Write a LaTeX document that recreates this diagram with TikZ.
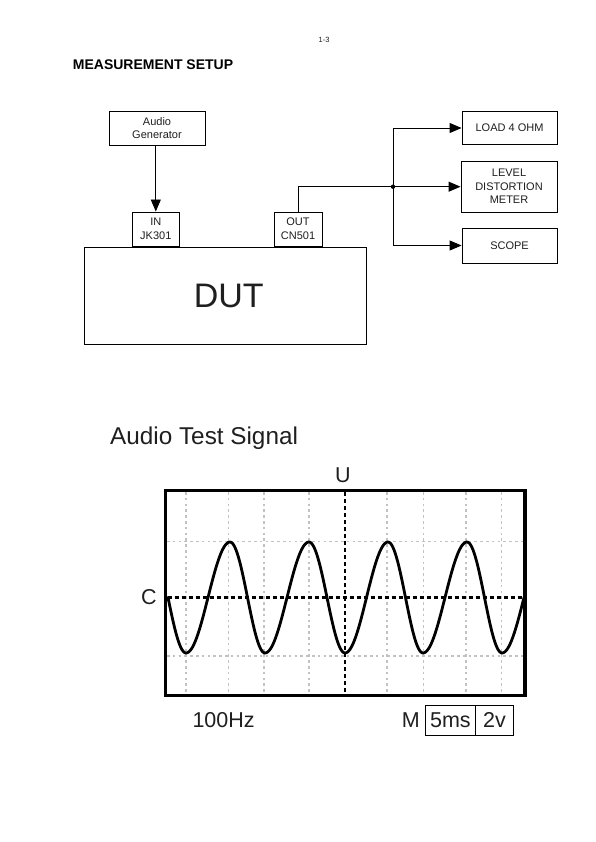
\documentclass[tikz,border=0pt]{standalone}
\usepackage{fontspec}
\setmainfont{Liberation Sans}
\usetikzlibrary{arrows.meta}
\begin{document}
\begin{tikzpicture}[x=1pt,y=-1pt,
  box/.style={draw,line width=0.9pt,inner sep=0pt,align=center,text=black!88,font=\fontsize{11}{13.7}\selectfont},
  conn/.style={line width=0.9pt},
  arr/.style={conn,-{Triangle[length=12pt,width=10pt]}},
  gridline/.style={draw=black!24,line width=1.6pt,dash pattern=on 2.6pt off 3.2pt},
  axisline/.style={line width=2.5pt,dash pattern=on 4pt off 3pt},
  big/.style={inner sep=0pt,text=black!88,font=\fontsize{21.5}{25}\selectfont},
  wave/.style={line width=2.8pt,line join=round,line cap=round}]
\useasboundingbox (0,0) rectangle (595,842);
\fill[white] (0,0) rectangle (595,842);

% header
\node[inner sep=0pt,text=black!88,font=\fontsize{7.5}{9}\selectfont] (page) at (324,39.8) {1-3};
\node[inner sep=0pt,anchor=base west,font=\bfseries\fontsize{14}{17}\selectfont] (title) at (72.7,69.3) {MEASUREMENT SETUP};

% setup diagram
\node[box,minimum width=96pt,minimum height=34pt] (gen) at (157,128) {Audio\\Generator};
\node[box,minimum width=46.5pt,minimum height=34pt] (in) at (155.8,229) {IN\\JK301};
\node[box,minimum width=48pt,minimum height=34pt] (out) at (298,229) {OUT\\CN501};
\node[box,minimum width=282.5pt,minimum height=97.5pt,font=\fontsize{34}{40}\selectfont] (dut) at (225.3,295.8) {\hspace*{7pt}DUT};
\node[box,minimum width=95pt,minimum height=33pt] (load) at (509.5,128) {LOAD 4 OHM};
\node[box,minimum width=96pt,minimum height=51pt] (level) at (509,186.5) {LEVEL\\DISTORTION\\METER};
\node[box,minimum width=95pt,minimum height=35pt] (scope) at (509.5,245.5) {SCOPE};

\draw[arr] (in.north |- gen.south) -- (in.north);
\coordinate (j) at (393,186.7);
\draw[conn] (out.north) |- (j);
\draw[arr] (j) -- (j -| level.west);
\draw[arr] (j) |- (load.west);
\draw[arr] (j) |- (scope.west);
\fill (j) circle (2.2pt);

% audio test signal
\node[inner sep=0pt,anchor=base west,text=black!88,font=\fontsize{24.3}{28}\selectfont] (sig) at (110,444) {Audio Test Signal};

\foreach \gx in {185.7,228.5,264,309,387,423.3,466,501.5}
  \draw[gridline] (\gx,492) -- (\gx,694);
\foreach \gy in {541.5,656}
  \draw[gridline] (167,\gy) -- (524,\gy);
\draw[axisline] (167.5,597.5) -- (524,597.5);
\draw[axisline] (345,492) -- (345,694);

\draw[wave]
  plot[domain=168:186,samples=15] (\x,{597.5+55.5*sin(90*(\x-168)/18)})
  -- plot[domain=186:230,samples=35] (\x,{597.5+55.5*cos(180*(\x-186)/44)})
  -- plot[domain=230:265,samples=30] (\x,{597.5-55.5*cos(180*(\x-230)/35)})
  -- plot[domain=265:309,samples=35] (\x,{597.5+55.5*cos(180*(\x-265)/44)})
  -- plot[domain=309:345,samples=30] (\x,{597.5-55.5*cos(180*(\x-309)/36)})
  -- plot[domain=345:388,samples=35] (\x,{597.5+55.5*cos(180*(\x-345)/43)})
  -- plot[domain=388:423,samples=30] (\x,{597.5-55.5*cos(180*(\x-388)/35)})
  -- plot[domain=423:467,samples=35] (\x,{597.5+55.5*cos(180*(\x-423)/44)})
  -- plot[domain=467:502,samples=30] (\x,{597.5-55.5*cos(180*(\x-467)/35)})
  -- plot[domain=502:524,samples=15] (\x,{597.5+55.5*cos(90*(\x-502)/22)});

\draw[line width=3.2pt] (165.5,490.5) coordinate (frametl) rectangle (525,695.5) coordinate (framebr);

\node[big] (u) at (343,475) {U};
\node[big] (c) at (149,597) {C};
\node[big,anchor=base west] (hz) at (192.3,727.3) {100Hz};
\node[big,anchor=base west] (m) at (401.7,727.3) {M};
\node[big,draw=black,text=black!88,line width=0.9pt,minimum width=50.7pt,minimum height=30pt] (ms) at (450.35,720) {5ms};
\node[big,draw=black,text=black!88,line width=0.9pt,minimum width=37.6pt,minimum height=30pt] (volt) at (494.5,720) {2v};
\end{tikzpicture}
\end{document}
